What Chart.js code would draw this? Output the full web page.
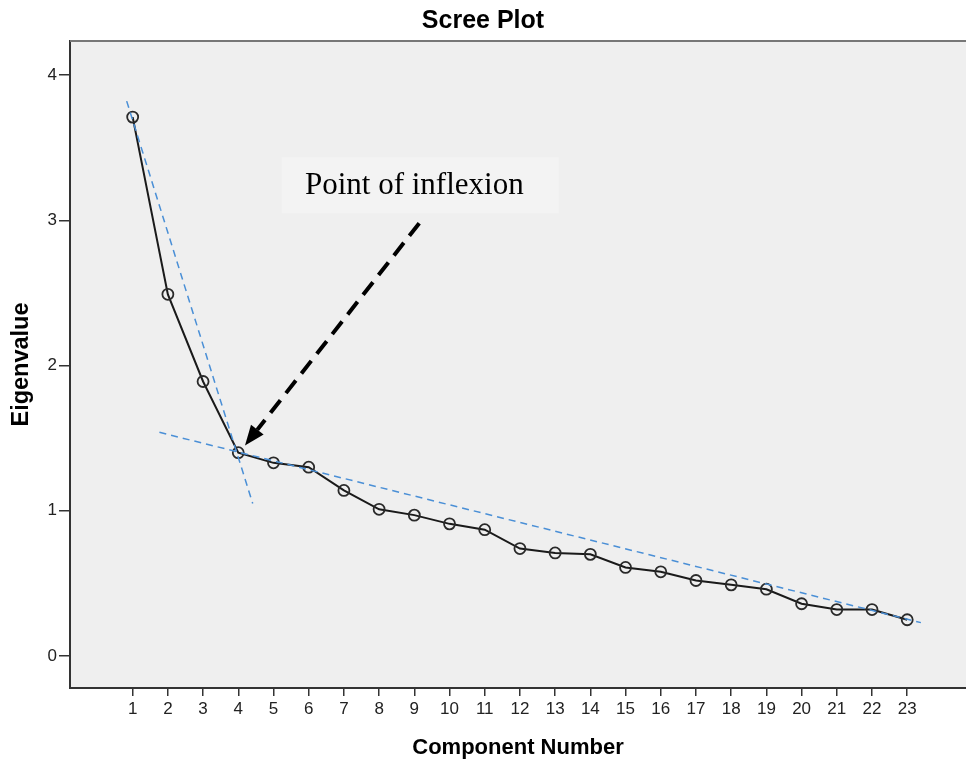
<!DOCTYPE html>
<html>
<head>
<meta charset="utf-8">
<title>Scree Plot</title>
<script src="https://cdn.jsdelivr.net/npm/chart.js@4.4.1/dist/chart.umd.min.js"></script>
<style>
  html, body { margin: 0; padding: 0; background: #fff; overflow: hidden; }
  #wrap { position: relative; width: 966px; height: 760px; }
  #chart { display: block; }
</style>
</head>
<body>
<div id="wrap"><canvas id="chart"></canvas></div>
<script>
// Component numbers and their eigenvalues
const components = [1, 2, 3, 4, 5, 6, 7, 8, 9, 10, 11, 12, 13, 14, 15, 16, 17, 18, 19, 20, 21, 22, 23];
const eigenvalues = [3.71, 2.49, 1.89, 1.40, 1.33, 1.30, 1.14, 1.01, 0.97, 0.91, 0.87, 0.74,
                     0.71, 0.70, 0.61, 0.58, 0.52, 0.49, 0.46, 0.36, 0.32, 0.32, 0.25];
const yTickValues = [0, 1, 2, 3, 4];
const xTickValues = components;

// Guide lines through the steep part and through the flat tail
const steepLine = [{x: 0.83, y: 3.82}, {x: 4.41, y: 1.05}];
const tailLine = [{x: 1.76, y: 1.54}, {x: 23.39, y: 0.23}];

// Note and arrow pointing at the elbow
const noteText = 'Point of inflexion';
const notePos = {x: 9.17, y: 3.24};
const arrowFrom = {x: 9.14, y: 2.98};
const arrowTo = {x: 4.19, y: 1.45};

const SANS = '"Liberation Sans", Arial, sans-serif';

// Plot background, top frame line, note box and arrow
const plotDecor = {
    id: 'plotDecor',
    beforeDraw(chart) {
        const {ctx, chartArea: a} = chart;
        ctx.save();
        ctx.fillStyle = '#efefef';
        ctx.fillRect(a.left, a.top, a.right - a.left, a.bottom - a.top);
        ctx.restore();
    },
    afterDraw(chart) {
        const {ctx, chartArea: a} = chart;
        const sx = chart.scales.x, sy = chart.scales.y;
        ctx.save();

        ctx.strokeStyle = '#777';
        ctx.lineWidth = 2;
        ctx.beginPath();
        ctx.moveTo(a.left, a.top);
        ctx.lineTo(a.right, a.top);
        ctx.stroke();

        // note box
        const nx = sx.getPixelForValue(notePos.x);
        const ny = sy.getPixelForValue(notePos.y);
        const boxW = 277, boxH = 56;
        ctx.fillStyle = '#f3f3f3';
        ctx.fillRect(nx - boxW / 2, ny - boxH / 2, boxW, boxH);
        ctx.fillStyle = '#000';
        ctx.font = '31px "Liberation Serif", "Times New Roman", serif';
        ctx.textAlign = 'center';
        ctx.textBaseline = 'middle';
        ctx.fillText(noteText, nx - 6, ny);

        // dashed arrow
        const x0 = sx.getPixelForValue(arrowFrom.x), y0 = sy.getPixelForValue(arrowFrom.y);
        const x1 = sx.getPixelForValue(arrowTo.x), y1 = sy.getPixelForValue(arrowTo.y);
        const ang = Math.atan2(y1 - y0, x1 - x0);
        const headLen = 20, headHalf = 8;
        const bx = x1 - headLen * Math.cos(ang), by = y1 - headLen * Math.sin(ang);
        ctx.strokeStyle = '#000';
        ctx.lineWidth = 4;
        ctx.setLineDash([16, 9]);
        ctx.beginPath();
        ctx.moveTo(x0, y0);
        ctx.lineTo(bx, by);
        ctx.stroke();
        ctx.setLineDash([]);
        ctx.beginPath();
        ctx.moveTo(x1, y1);
        ctx.lineTo(bx + headHalf * Math.sin(ang), by - headHalf * Math.cos(ang));
        ctx.lineTo(bx - headHalf * Math.sin(ang), by + headHalf * Math.cos(ang));
        ctx.closePath();
        ctx.fill();

        ctx.restore();
    }
};

const guideStyle = {
    type: 'line',
    borderColor: '#4a8fd6',
    borderWidth: 1.5,
    borderDash: [7, 5],
    pointRadius: 0,
    fill: false,
    order: 0
};

new Chart(document.getElementById('chart'), {
    type: 'line',
    data: {
        datasets: [
            {
                label: 'Eigenvalue',
                data: components.map((c, i) => ({x: c, y: eigenvalues[i]})),
                borderColor: '#1a1a1a',
                borderWidth: 2,
                tension: 0,
                pointRadius: 5.5,
                pointBorderWidth: 1.8,
                pointBorderColor: '#2a2a2a',
                pointBackgroundColor: 'rgba(0,0,0,0)',
                order: 1
            },
            Object.assign({label: 'steep', data: steepLine}, guideStyle),
            Object.assign({label: 'tail', data: tailLine}, guideStyle)
        ]
    },
    options: {
        responsive: true,
        maintainAspectRatio: false,
        animation: false,
        layout: {padding: 0, autoPadding: false},
        plugins: {
            legend: {display: false},
            tooltip: {enabled: false},
            title: {
                display: true,
                text: 'Scree Plot',
                color: '#000',
                font: {family: SANS, size: 25, weight: 'bold', lineHeight: 1.2},
                padding: {top: 6, bottom: 5}
            }
        },
        scales: {
            x: {
                type: 'linear',
                min: -0.78,
                max: 24.67,
                afterBuildTicks: s => { s.ticks = xTickValues.map(v => ({value: v})); },
                afterFit: s => { s.height = 72; s.paddingLeft = 0; s.paddingRight = 0; },
                border: {color: '#333', width: 2},
                grid: {drawOnChartArea: false, tickLength: 8, color: '#333', lineWidth: 1.5},
                ticks: {
                    color: '#222', autoSkip: false, maxRotation: 0, padding: 3,
                    font: {family: SANS, size: 17}
                },
                title: {
                    display: true, text: 'Component Number', color: '#000',
                    font: {family: SANS, size: 22, weight: 'bold', lineHeight: 1},
                    padding: {top: 0, bottom: 1}
                }
            },
            y: {
                type: 'linear',
                min: -0.22,
                max: 4.234,
                afterBuildTicks: s => { s.ticks = yTickValues.map(v => ({value: v})); },
                afterFit: s => { s.width = 70; },
                border: {color: '#333', width: 2},
                grid: {drawOnChartArea: false, tickLength: 11, color: '#333', lineWidth: 1.5},
                ticks: {color: '#222', padding: 2, font: {family: SANS, size: 17}},
                title: {
                    display: true, text: 'Eigenvalue', color: '#000',
                    font: {family: SANS, size: 23.5, weight: 'bold', lineHeight: 1},
                    padding: {top: 10, bottom: 0}
                }
            }
        }
    },
    plugins: [plotDecor]
});
</script>
</body>
</html>
